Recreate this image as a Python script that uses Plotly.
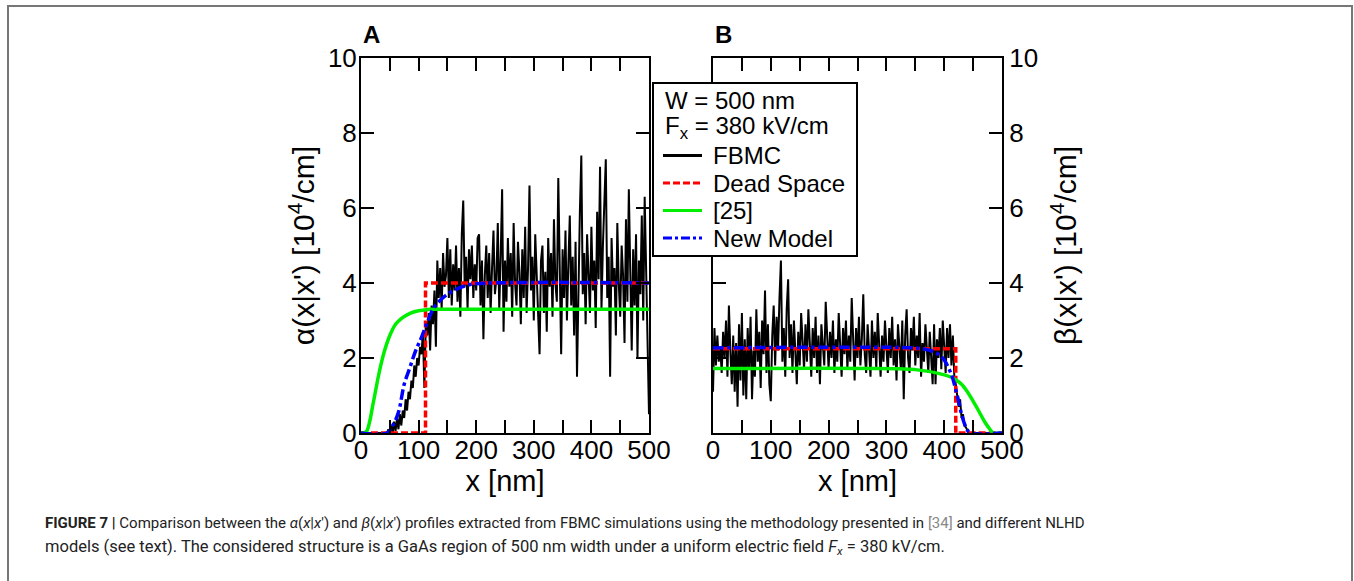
import plotly.graph_objects as go

# FBMC samples, every 2.5 nm from 0 to 500 nm
x_step = 2.5
fbmc_alpha = [
    0, 0, 0, 0, 0, 0, 0, 0, 0, 0, 0, 0, 0, 0, 0, 0, 0, 0, 0, 0.1,
    0, 0.2, 0, 0.3, 0.05, 0.4, 0.1, 0.5, 0.2, 0.6, 0.4, 0.9, 0.6, 1.1, 0.9, 1.4, 1.2, 1.8, 1.5, 2.0,
    1.8, 2.3, 2.1, 2.7, 1.2, 2.9, 2.6, 3.2, 2.2, 3.4, 2.9, 3.8, 2.3, 4.6, 3.6, 4.4, 3.3, 4.8, 3.9, 4.2,
    5.2, 3.6, 4.9, 3.4, 4.5, 3.8, 5.0, 3.5, 4.4, 3.1, 5.3, 6.2, 3.9, 4.7, 3.3, 4.9, 4.1, 5.0, 3.6, 4.5,
    3.8, 5.2, 5.3, 3.4, 4.6, 2.5, 4.2, 5.0, 3.6, 4.8, 3.2, 4.4, 5.4, 3.7, 4.1, 5.6, 3.3, 4.7, 6.5, 2.7,
    4.6, 3.5, 5.2, 3.9, 4.8, 3.1, 5.6, 4.0, 3.4, 5.1, 4.3, 2.9, 4.9, 3.6, 5.5, 3.2, 4.4, 6.6, 3.8, 4.7,
    3.0, 5.3, 4.1, 3.3, 2.1, 4.6, 5.0, 3.2, 4.3, 2.7, 5.2, 3.9, 4.8, 3.1, 5.7, 4.0, 3.5, 6.8, 4.2, 2.1,
    4.9, 3.6, 5.4, 3.0, 4.5, 5.8, 3.4, 4.7, 2.6, 5.1, 1.5, 4.4, 5.9, 7.4, 3.7, 4.8, 2.9, 5.3, 4.0, 3.2,
    5.5, 3.8, 4.6, 2.8, 5.9, 4.1, 7.1, 3.3, 5.0, 6.3, 7.3, 3.6, 4.7, 1.5, 5.2, 3.9, 4.4, 2.6, 5.6, 4.0,
    3.1, 5.0, 4.2, 2.4, 5.7, 3.5, 6.5, 4.3, 2.2, 4.9, 3.4, 5.3, 2.0, 4.6, 3.7, 5.8, 3.0, 6.3, 4.1, 2.9,
    0.5,
]
fbmc_beta = [
    1.1, 2.8, 1.8, 2.6, 1.9, 2.3, 1.6, 2.7, 2.0, 3.0, 1.5, 3.4, 2.2, 1.3, 2.6, 1.1, 2.4, 0.7, 2.9, 1.4,
    3.2, 1.0, 2.5, 0.9, 2.8, 1.7, 3.1, 0.9, 2.2, 1.5, 3.3, 1.9, 2.7, 1.2, 3.0, 2.1, 3.8, 1.6, 2.9, 1.3,
    0.85, 2.6, 3.4, 1.8, 3.1, 2.2, 3.6, 4.6, 1.9, 2.8, 1.5, 3.3, 4.1, 2.0, 2.9, 1.6, 3.0, 2.3, 1.3, 2.7,
    1.8, 3.2, 2.4, 1.7, 2.9, 1.9, 3.3, 2.1, 1.5, 2.8, 2.0, 3.1, 1.6, 2.6, 1.3, 2.9, 2.2, 1.8, 3.5, 2.4,
    1.7, 2.7, 2.0, 3.0, 1.6, 2.5, 1.9, 3.2, 2.3, 1.5, 2.8, 2.1, 3.0, 1.7, 2.6, 1.9, 3.6, 2.2, 1.4, 2.8,
    2.0, 3.1, 1.8, 2.5, 3.7, 2.1, 1.6, 2.9, 2.3, 1.5, 3.0, 2.0, 2.7, 1.7, 3.2, 2.2, 1.5, 2.6, 1.9, 3.0,
    2.4, 1.6, 2.8, 2.0, 3.1, 1.8, 2.5, 1.4, 2.9, 2.2, 1.7, 3.0, 0.9, 2.6, 3.3, 2.0, 1.6, 2.8, 2.2, 3.1,
    1.8, 2.6, 2.0, 3.2, 1.5, 2.4, 1.9, 2.9, 2.3, 1.6, 2.7, 2.0, 1.3, 2.9, 1.3, 2.5, 2.0, 2.8, 1.7, 3.0,
    2.2, 1.6, 2.8, 2.0, 2.9, 1.8, 2.6, 1.5, 1.3, 1.0, 0.7, 0.9, 0.4, 0.5, 0.2, 0.15, 0.05, 0, 0, 0,
    0, 0, 0, 0, 0, 0, 0, 0, 0, 0, 0, 0, 0, 0, 0, 0, 0, 0, 0, 0,
    0,
]
x_fbmc = [i * x_step for i in range(len(fbmc_alpha))]

# Dead Space model (step profiles)
dead_alpha_x = [0, 112, 112, 500]
dead_alpha_y = [0, 0, 4.0, 4.0]
dead_beta_x = [0, 420, 420, 500]
dead_beta_y = [2.25, 2.25, 0, 0]

# model of ref. [25]
ref25_alpha_x = [0, 5, 10, 15, 20, 25, 30, 35, 40, 50, 60, 70, 80, 90, 100, 110, 120, 140, 500]
ref25_alpha_y = [0, 0, 0.05, 0.3, 0.7, 1.1, 1.5, 1.85, 2.15, 2.6, 2.9, 3.05, 3.15, 3.22, 3.26, 3.28, 3.3, 3.3, 3.3]
ref25_beta_x = [0, 330, 350, 370, 390, 410, 420, 430, 440, 450, 460, 470, 480, 485, 500]
ref25_beta_y = [1.72, 1.71, 1.69, 1.65, 1.59, 1.5, 1.42, 1.3, 1.1, 0.85, 0.58, 0.3, 0.08, 0, 0]

# New Model
new_alpha_x = [0, 45, 55, 65, 75, 85, 95, 105, 115, 125, 135, 150, 165, 180, 200, 500]
new_alpha_y = [0, 0, 0.2, 0.55, 1.3, 1.75, 2.2, 2.55, 2.95, 3.3, 3.5, 3.7, 3.83, 3.92, 3.98, 4.0]
new_beta_x = [0, 350, 365, 380, 390, 400, 410, 415, 420, 425, 430, 435, 440, 445, 500]
new_beta_y = [2.27, 2.27, 2.24, 2.18, 2.1, 1.95, 1.65, 1.45, 1.15, 0.85, 0.5, 0.25, 0.08, 0, 0]

x_ticks = [0, 100, 200, 300, 400, 500]
y_ticks = [0, 2, 4, 6, 8, 10]

legend_title = ["W = 500 nm", "F<sub>x</sub> = 380 kV/cm"]
legend_names = ["FBMC", "Dead Space", "[25]", "New Model"]

FONT = "Liberation Sans, Arial, sans-serif"
W, H = 1354, 581

# line styles shared by both panels and the legend keys
styles = {
    "FBMC": dict(color="black", width=2),
    "Dead Space": dict(color="#ff0000", width=3.5, dash="7px,3px"),
    "[25]": dict(color="#00ee00", width=3.5),
    "New Model": dict(color="#0000ff", width=3.5, dash="dashdot"),
}


def px(x):
    return x / W


def py(y):
    return 1 - y / H


fig = go.Figure()

for xa, ya, fb, dx, dy, gx, gy, nx, ny in [
    ("x", "y", fbmc_alpha, dead_alpha_x, dead_alpha_y, ref25_alpha_x, ref25_alpha_y, new_alpha_x, new_alpha_y),
    ("x2", "y2", fbmc_beta, dead_beta_x, dead_beta_y, ref25_beta_x, ref25_beta_y, new_beta_x, new_beta_y),
]:
    fig.add_trace(go.Scatter(x=x_fbmc, y=fb, mode="lines", name="FBMC", xaxis=xa, yaxis=ya,
                             line=styles["FBMC"]))
    fig.add_trace(go.Scatter(x=dx, y=dy, mode="lines", name="Dead Space", xaxis=xa, yaxis=ya,
                             line=styles["Dead Space"]))
    fig.add_trace(go.Scatter(x=gx, y=gy, mode="lines", name="[25]", xaxis=xa, yaxis=ya,
                             line=dict(styles["[25]"], shape="spline")))
    fig.add_trace(go.Scatter(x=nx, y=ny, mode="lines", name="New Model", xaxis=xa, yaxis=ya,
                             line=dict(styles["New Model"], shape="spline")))

ax_common = dict(showline=True, linecolor="black", linewidth=2, mirror="ticks",
                 ticks="inside", ticklen=13, tickwidth=2, tickcolor="black",
                 showgrid=False, zeroline=False, automargin=False,
                 tickfont=dict(family=FONT, size=26, color="black"))

xaxis_common = dict(ax_common, range=[0, 500], tickvals=x_ticks, ticklabelstandoff=-7,
                    minor=dict(dtick=50, ticks="inside", ticklen=13, tickwidth=2, tickcolor="black"),
                    title=dict(text="x [nm]", font=dict(family=FONT, size=29, color="black"), standoff=0))
yaxis_common = dict(ax_common, range=[0, 10], tickvals=y_ticks)

y_dom = [py(433), py(58)]

# outer frame + legend box and keys
shapes = [dict(type="rect", xref="paper", yref="paper", x0=px(8), x1=px(1352), y0=-0.05, y1=py(6),
               line=dict(color="#777777", width=2), fillcolor="rgba(0,0,0,0)", layer="below"),
          dict(type="rect", xref="paper", yref="paper", x0=px(653), x1=px(857), y0=py(256), y1=py(83),
               line=dict(color="black", width=2), fillcolor="white", layer="above")]

row_y = [100, 128, 155.5, 183, 210.5, 238]
annotations = []
for txt, ry in zip(legend_title, row_y[:2]):
    annotations.append(dict(text=txt, x=px(663), y=py(ry), xref="paper", yref="paper", xanchor="left",
                            yanchor="middle", showarrow=False, font=dict(family=FONT, size=24, color="black")))
for name, ry in zip(legend_names, row_y[2:]):
    shapes.append(dict(type="line", xref="paper", yref="paper", x0=px(663), x1=px(702), y0=py(ry), y1=py(ry),
                       line=dict(styles[name], width=3), layer="above"))
    annotations.append(dict(text=name, x=px(711), y=py(ry), xref="paper", yref="paper", xanchor="left",
                            yanchor="middle", showarrow=False, font=dict(family=FONT, size=24, color="black")))

annotations += [
    dict(text="<b>A</b>", x=px(361), y=py(34), xref="paper", yref="paper", xanchor="left",
         yanchor="middle", showarrow=False, font=dict(family=FONT, size=24, color="black")),
    dict(text="<b>B</b>", x=px(713), y=py(34), xref="paper", yref="paper", xanchor="left",
         yanchor="middle", showarrow=False, font=dict(family=FONT, size=24, color="black")),
    dict(text="<b>FIGURE 7 |</b> Comparison between the <i>α</i>(<i>x</i>|<i>x</i>′) and "
              "<i>β</i>(<i>x</i>|<i>x</i>′) profiles extracted from FBMC simulations using the methodology "
              "presented in <span style='color:#888888'>[34]</span> and different NLHD",
         x=px(43), y=py(523), xref="paper", yref="paper", xanchor="left", yanchor="middle",
         showarrow=False, font=dict(family="Roboto, sans-serif", size=15, color="#222222")),
    dict(text="models (see text). The considered structure is a GaAs region of 500 nm width under a "
              "uniform electric field <i>F<sub>x</sub></i> = 380 kV/cm.",
         x=px(43), y=py(547), xref="paper", yref="paper", xanchor="left", yanchor="middle",
         showarrow=False, font=dict(family="Roboto, sans-serif", size=16.5, color="#222222")),
]

fig.update_layout(
    width=W, height=H,
    margin=dict(l=0, r=0, t=0, b=0, autoexpand=False),
    paper_bgcolor="white", plot_bgcolor="white",
    showlegend=False,
    xaxis=dict(xaxis_common, domain=[px(361), px(649)], anchor="y"),
    yaxis=dict(yaxis_common, domain=y_dom, anchor="x", ticklabelstandoff=-3,
               title=dict(text="α(x|x') [10<sup>4</sup>/cm]", font=dict(family=FONT, size=30, color="black"),
                          standoff=4)),
    xaxis2=dict(xaxis_common, domain=[px(713), px(1002)], anchor="y2"),
    yaxis2=dict(yaxis_common, domain=y_dom, anchor="x2", side="right",
                title=dict(text="β(x|x') [10<sup>4</sup>/cm]", font=dict(family=FONT, size=30, color="black"),
                           standoff=18)),
    shapes=shapes,
    annotations=annotations,
)

fig.write_html("out.html", config={"displayModeBar": False},
               post_script="document.body.style.margin='0';document.body.style.overflow='hidden';")
